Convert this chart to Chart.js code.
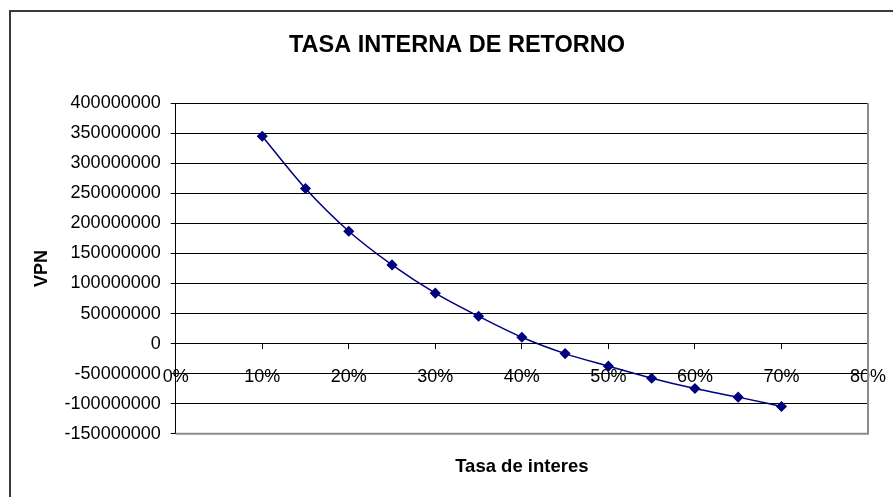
<!DOCTYPE html>
<html>
<head>
<meta charset="utf-8">
<script src="https://cdn.jsdelivr.net/npm/chart.js@4/dist/chart.umd.min.js"></script>
<style>
  html, body { margin: 0; padding: 0; background: #fff; }
  #wrap { width: 893px; height: 497px; }
</style>
</head>
<body>
<div id="wrap"><canvas id="tirChart" width="893" height="497"></canvas></div>
<script>
// tasas de interes (eje x) y VPN
const tasas = [0.10, 0.15, 0.20, 0.25, 0.30, 0.35, 0.40, 0.45, 0.50, 0.55, 0.60, 0.65, 0.70];
const vpn = [345000000, 258000000, 187000000, 131000000, 84000000, 45500000, 10600000,
             -16600000, -37500000, -57500000, -74700000, -89000000, -104600000];
const yTicks = [400000000, 350000000, 300000000, 250000000, 200000000, 150000000, 100000000,
                50000000, 0, -50000000, -100000000, -150000000];
const xTicks = ['0%', '10%', '20%', '30%', '40%', '50%', '60%', '70%', '80%'];

const FONT = "'Liberation Sans', Arial, sans-serif";

// marco exterior y bordes gris del area de trazado
const marcos = {
    id: 'marcos',
    beforeDraw(chart) {
        const ctx = chart.ctx;
        ctx.save();
        ctx.fillStyle = '#fff';
        ctx.fillRect(0, 0, chart.width, chart.height);
        ctx.strokeStyle = '#3a3a3a';
        ctx.lineWidth = 2;
        ctx.strokeRect(10, 11, 2000, 2000);
        ctx.restore();
    },
    afterDraw(chart) {
        const a = chart.chartArea;
        const ctx = chart.ctx;
        ctx.save();
        ctx.strokeStyle = '#8c8c8c';
        ctx.lineWidth = 2;
        ctx.beginPath();
        ctx.moveTo(a.left, a.bottom);
        ctx.lineTo(a.right, a.bottom);
        ctx.lineTo(a.right, a.top);
        ctx.stroke();
        ctx.restore();
    }
};

new Chart(document.getElementById('tirChart'), {
    type: 'line',
    data: {
        datasets: [{
            label: 'VPN',
            data: tasas.map((t, i) => ({ x: t, y: vpn[i] })),
            borderColor: '#000080',
            backgroundColor: '#000080',
            borderWidth: 1.5,
            cubicInterpolationMode: 'monotone',
            pointStyle: 'rectRot',
            pointRadius: 4.5,
            pointHoverRadius: 4.5,
            fill: false
        }]
    },
    options: {
        responsive: false,
        animation: false,
        layout: { padding: { left: 28, right: 7, top: 0, bottom: 19 } },
        plugins: {
            legend: { display: false },
            tooltip: { enabled: false },
            title: {
                display: true,
                text: 'TASA INTERNA DE RETORNO',
                color: '#000',
                font: { family: FONT, size: 23.5, weight: 'bold' },
                padding: { top: 31, bottom: 44 }
            }
        },
        scales: {
            x: {
                type: 'linear',
                position: { y: 0 },
                min: 0,
                max: 0.8,
                afterBuildTicks: s => { s.ticks = xTicks.map((l, i) => ({ value: i / 10 })); },
                afterFit: s => { s.paddingRight = 25; },
                ticks: {
                    color: '#000',
                    font: { family: FONT, size: 18 },
                    padding: 18,
                    maxRotation: 0,
                    callback: (v, i) => xTicks[i]
                },
                grid: { drawOnChartArea: false, drawTicks: true, tickLength: 5, color: '#000' },
                border: { display: true, color: '#000', width: 1 }
            },
            x2: {
                type: 'linear',
                position: 'bottom',
                min: 0,
                max: 0.8,
                ticks: { display: false },
                grid: { display: false, drawTicks: false },
                border: { display: false },
                title: {
                    display: true,
                    text: 'Tasa de interes',
                    color: '#000',
                    font: { family: FONT, size: 18.5, weight: 'bold' },
                    padding: { top: 22, bottom: 0 }
                }
            },
            y: {
                type: 'linear',
                min: -150000000,
                max: 400000000,
                afterBuildTicks: s => { s.ticks = yTicks.slice().reverse().map(v => ({ value: v })); },
                ticks: {
                    color: '#000',
                    font: { family: FONT, size: 18 },
                    padding: 10,
                    callback: v => String(v)
                },
                grid: { color: '#000', lineWidth: 1, tickLength: 5, drawTicks: true },
                border: { display: true, color: '#000', width: 1 },
                title: {
                    display: true,
                    text: 'VPN',
                    color: '#000',
                    font: { family: FONT, size: 18, weight: 'bold' },
                    padding: { top: 3, bottom: 2 }
                }
            }
        }
    },
    plugins: [marcos]
});
</script>
</body>
</html>
